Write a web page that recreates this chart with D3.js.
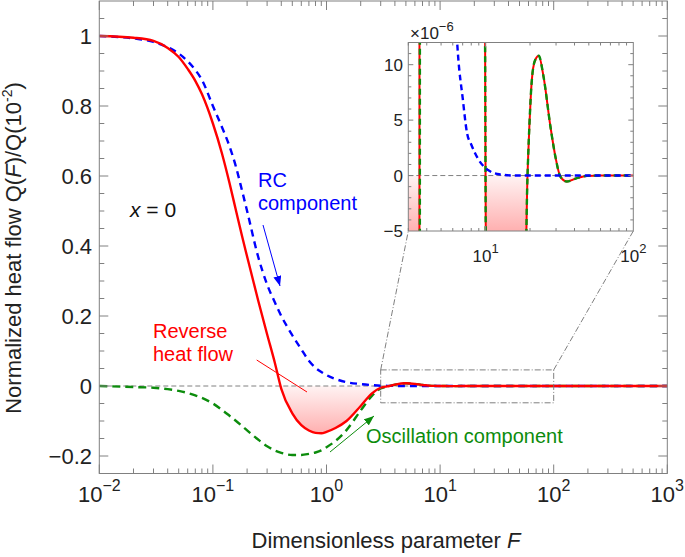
<!DOCTYPE html>
<html><head><meta charset="utf-8">
<script src="https://cdn.jsdelivr.net/npm/d3@7"></script>
<style>
body{margin:0;background:#fff}
text{font-family:"Liberation Sans",Arial,Helvetica,sans-serif}
</style>
</head><body>
<svg id="c" width="685" height="557"></svg>
<script>
// ---------------- data ----------------
const F = [0.01,0.02,0.03,0.04,0.05,0.06,0.07,0.08,0.1,0.12,
  0.14,0.16,0.18,0.2,0.25,0.3,0.35,0.4,0.5,0.6,
  0.7,0.8,0.9,1,1.2,1.5,2,2.5,3,3.3,
  3.57,3.8,4,5,6,6.5,7,7.5,8,9,
  9.6,10,10.4,11,12,14,16,18,18.5,18.9,
  19.1,19.4,19.8,20.3,21,22,22.9,24.7,27.5,29.7,
  32.1,35.5,41.5,48.5,60,100,1000];
// total heat flow Q(F)/Q(1e-2)
const total = [1.0,0.995,0.986,0.966,0.94,0.906,0.872,0.834,0.75,0.665,
  0.58,0.50,0.43,0.37,0.245,0.148,0.068,-0.008,-0.078,-0.112,
  -0.127,-0.134,-0.135,-0.131,-0.12,-0.1,-0.057,-0.022,-0.005,-0.0018,
  0,0.0022,0.0038,0.0078,0.006,0.0045,0.003,0.002,0.0012,0.0003,
  0.00008,0,-6e-5,-1.5e-4,-2.5e-4,-2.8e-4,-1.5e-4,-2.5e-5,-1.2e-5,-5e-6,
  -1.5e-6,1.5e-6,4.5e-6,7.5e-6,9.7e-6,10.6e-6,10.8e-6,8.9e-6,4.4e-6,1.7e-6,
  -0.1e-6,-0.54e-6,-0.23e-6,-0.03e-6,0,0,0];
// RC component
const rc = [1.0,0.993,0.983,0.968,0.95,0.928,0.903,0.875,0.80,0.74,
  0.685,0.625,0.56,0.50,0.37,0.29,0.24,0.20,0.145,0.105,
  0.072,0.052,0.04,0.031,0.02,0.011,0.0055,0.0025,0.0009,0.0006,
  0.0004,0.0003,0.00022,6e-5,2e-5,1.1e-5,7e-6,3.8e-6,2.8e-6,1.4e-6,
  0.9e-6,0.66e-6,0.5e-6,0.3e-6,0.15e-6,0.03e-6,0,0,0,0,
  0,0,0,0,0,0,0,0,0,0,
  0,0,0,0,0,0,0];
// Oscillation component
const osc = [0,-0.003,-0.005,-0.009,-0.014,-0.02,-0.027,-0.034,-0.05,-0.068,
  -0.085,-0.1,-0.114,-0.127,-0.153,-0.172,-0.184,-0.191,-0.197,-0.197,
  -0.194,-0.19,-0.184,-0.175,-0.157,-0.126,-0.07,-0.029,-0.007,-0.0025,
  -0.0002,0.0019,0.0036,0.0077,0.006,0.0045,0.003,0.002,0.0012,0.0003,
  0.00008,-0.7e-6,-6e-5,-1.5e-4,-2.5e-4,-2.8e-4,-1.5e-4,-2.5e-5,-1.2e-5,-5e-6,
  -1.5e-6,1.5e-6,4.5e-6,7.5e-6,9.7e-6,10.6e-6,10.8e-6,8.9e-6,4.4e-6,1.7e-6,
  -0.1e-6,-0.54e-6,-0.23e-6,-0.03e-6,0,0,0];

const xTickExp = [-2,-1,0,1,2,3];
const yTicks = [-0.2,0,0.2,0.4,0.6,0.8,1];
const yTickLabels = ["\u22120.2","0","0.2","0.4","0.6","0.8","1"];
const insetYTicks = [-5,0,5,10];
const insetYTickLabels = ["\u22125","0","5","10"];
const insetXTickExp = [1,2];
const insetUnit = 1e-6;
const zoomBox = {f0:3, f1:100, v0:-0.048, v1:0.046};

// ---------------- setup ----------------
const svg = d3.select("#c");
svg.append("rect").attr("width",685).attr("height",557).attr("fill","#fff");
const M = {l:99.3, r:667.3, t:1, b:473.5};
const x = d3.scaleLog().domain([1e-2,1e3]).range([M.l,M.r]);
const y = d3.scaleLinear().domain([-0.25,1.1]).range([M.b,M.t]);
const I = {l:408.3, r:633.3, t:42.5, b:231};
const xi = d3.scaleLog().domain([3,100]).range([I.l,I.r]);
const yi = d3.scaleLinear().domain([-5,12]).range([I.b,I.t]);

const RED="#ff0000", BLUE="#0000ff", GREEN="#0c8c0c", AX="#808080";
const rows = F.map((f,i)=>({f, t:total[i], r:rc[i], o:osc[i]}));
const rowsI = rows.filter(d=>d.f>=2.5 && d.f<=100);

const defs = svg.append("defs");
defs.append("clipPath").attr("id","clipMain").append("rect")
  .attr("x",M.l).attr("y",M.t).attr("width",M.r-M.l).attr("height",M.b-M.t);
defs.append("clipPath").attr("id","clipIn").append("rect")
  .attr("x",I.l).attr("y",I.t).attr("width",I.r-I.l).attr("height",I.b-I.t);
function grad(id,y1,y2){
  const g = defs.append("linearGradient").attr("id",id).attr("gradientUnits","userSpaceOnUse")
    .attr("x1",0).attr("x2",0).attr("y1",y1).attr("y2",y2);
  g.append("stop").attr("offset",0).attr("stop-color","#fff3f3");
  g.append("stop").attr("offset",1).attr("stop-color","#ffb0b0");
}
grad("gMain", y(0), y(-0.135));
grad("gIn", yi(0), yi(-5));
function marker(id,color){
  defs.append("marker").attr("id",id).attr("viewBox","0 0 10 8").attr("refX",10).attr("refY",4)
    .attr("markerUnits","userSpaceOnUse").attr("markerWidth",10).attr("markerHeight",8)
    .attr("orient","auto").append("path").attr("d","M0,0L10,4L0,8Z").attr("fill",color);
}
marker("aBlue",BLUE); marker("aGreen",GREEN);

// ---------------- main plot ----------------
const gMain = svg.append("g").attr("clip-path","url(#clipMain)");
gMain.append("path").datum(rows)
  .attr("d", d3.area().x(d=>x(d.f)).y0(y(0)).y1(d=>y(Math.min(d.t,0))).curve(d3.curveMonotoneX))
  .attr("fill","url(#gMain)");
gMain.append("line").attr("x1",M.l).attr("x2",M.r).attr("y1",y(0)).attr("y2",y(0))
  .attr("stroke",AX).attr("stroke-width",1).attr("stroke-dasharray","5,3");
const lineM = k => d3.line().x(d=>x(d.f)).y(d=>y(d[k])).curve(d3.curveMonotoneX);
gMain.append("path").datum(rows).attr("d",lineM("o")).attr("fill","none")
  .attr("stroke",GREEN).attr("stroke-width",2.4).attr("stroke-dasharray","8,5");
gMain.append("path").datum(rows).attr("d",lineM("r")).attr("fill","none")
  .attr("stroke",BLUE).attr("stroke-width",2.4).attr("stroke-dasharray","7,5");
gMain.append("path").datum(rows).attr("d",lineM("t")).attr("fill","none")
  .attr("stroke",RED).attr("stroke-width",2.4);

// zoom box + connectors
const dd = "6,2,1,2";
svg.append("rect").attr("x",x(zoomBox.f0)).attr("y",y(zoomBox.v1))
  .attr("width",x(zoomBox.f1)-x(zoomBox.f0)).attr("height",y(zoomBox.v0)-y(zoomBox.v1))
  .attr("fill","none").attr("stroke","#707070").attr("stroke-width",0.9).attr("stroke-dasharray",dd);
svg.append("line").attr("x1",x(zoomBox.f0)).attr("y1",y(zoomBox.v1)).attr("x2",I.l).attr("y2",I.b)
  .attr("stroke","#707070").attr("stroke-width",0.9).attr("stroke-dasharray",dd);
svg.append("line").attr("x1",x(zoomBox.f1)).attr("y1",y(zoomBox.v1)).attr("x2",I.r).attr("y2",I.b)
  .attr("stroke","#707070").attr("stroke-width",0.9).attr("stroke-dasharray",dd);

// main axes frame & ticks
const gAx = svg.append("g").attr("stroke",AX).attr("stroke-width",1);
gAx.append("rect").attr("x",M.l).attr("y",M.t).attr("width",M.r-M.l).attr("height",M.b-M.t).attr("fill","none");
d3.range(-25,111,5).map(v=>v/100).forEach(v=>{
  const major = yTicks.some(t=>Math.abs(t-v)<1e-9);
  const L = major?9:5;
  if (v<=-0.25||v>=1.1) return;
  gAx.append("line").attr("x1",M.l).attr("x2",M.l+L).attr("y1",y(v)).attr("y2",y(v));
  gAx.append("line").attr("x1",M.r).attr("x2",M.r-L).attr("y1",y(v)).attr("y2",y(v));
});
xTickExp.forEach(k=>{
  for(let m=1;m<=9;m++){
    const f = m*Math.pow(10,k);
    if (f>1000) break;
    const L = m===1?9:5;
    gAx.append("line").attr("x1",x(f)).attr("x2",x(f)).attr("y1",M.b).attr("y2",M.b-L);
    gAx.append("line").attr("x1",x(f)).attr("x2",x(f)).attr("y1",M.t).attr("y2",M.t+L);
  }
});
// tick labels
yTicks.forEach((v,i)=>{
  svg.append("text").attr("x",92).attr("y",y(v)).attr("dy","0.36em").attr("text-anchor","end")
    .attr("font-size",22).attr("fill","#222").text(yTickLabels[i]);
});
xTickExp.forEach(k=>{
  const t = svg.append("text").attr("x",x(Math.pow(10,k))).attr("y",502).attr("text-anchor","middle")
    .attr("font-size",22).attr("fill","#222");
  t.append("tspan").text("10");
  t.append("tspan").attr("dy",-11).attr("font-size",16).text(String(k).replace("-","\u2212"));
});
// axis titles
const xl = svg.append("text").attr("x",386).attr("y",548).attr("text-anchor","middle")
  .attr("font-size",22).attr("fill","#222");
xl.append("tspan").text("Dimensionless parameter ");
xl.append("tspan").attr("font-style","italic").text("F");
const yl = svg.append("text").attr("transform","translate(21,248) rotate(-90)").attr("text-anchor","middle")
  .attr("font-size",22).attr("fill","#222");
yl.append("tspan").text("Normalized heat flow Q(");
yl.append("tspan").attr("font-style","italic").text("F");
yl.append("tspan").text(")/Q(10");
yl.append("tspan").attr("dy",-9).attr("font-size",14).text("-2");
yl.append("tspan").attr("dy",9).text(")");

// ---------------- inset ----------------
svg.append("rect").attr("x",I.l).attr("y",I.t).attr("width",I.r-I.l).attr("height",I.b-I.t).attr("fill","#fff");
const gIn = svg.append("g").attr("clip-path","url(#clipIn)");
gIn.append("path").datum(rowsI)
  .attr("d", d3.area().x(d=>xi(d.f)).y0(yi(0)).y1(d=>yi(Math.min(d.t,0)/insetUnit)).curve(d3.curveMonotoneX))
  .attr("fill","url(#gIn)");
gIn.append("line").attr("x1",I.l).attr("x2",I.r).attr("y1",yi(0)).attr("y2",yi(0))
  .attr("stroke",AX).attr("stroke-width",1).attr("stroke-dasharray","5,3");
const lineI = k => d3.line().x(d=>xi(d.f)).y(d=>yi(d[k]/insetUnit)).curve(d3.curveMonotoneX);
gIn.append("path").datum(rowsI).attr("d",lineI("t")).attr("fill","none").attr("stroke",RED).attr("stroke-width",2);
gIn.append("path").datum(rowsI).attr("d",lineI("o")).attr("fill","none").attr("stroke",GREEN)
  .attr("stroke-width",2.4).attr("stroke-dasharray","6,4");
gIn.append("path").datum(rowsI).attr("d",lineI("r")).attr("fill","none").attr("stroke",BLUE)
  .attr("stroke-width",2.4).attr("stroke-dasharray","6,4");
const gIa = svg.append("g").attr("stroke",AX).attr("stroke-width",1);
gIa.append("rect").attr("x",I.l).attr("y",I.t).attr("width",I.r-I.l).attr("height",I.b-I.t).attr("fill","none");
d3.range(-5,13,1).forEach(v=>{
  if (v===-5||v===12) return;
  const L = insetYTicks.includes(v)?5:3;
  gIa.append("line").attr("x1",I.l).attr("x2",I.l+L).attr("y1",yi(v)).attr("y2",yi(v));
  gIa.append("line").attr("x1",I.r).attr("x2",I.r-L).attr("y1",yi(v)).attr("y2",yi(v));
});
[0,1].forEach(k=>{
  for(let m=1;m<=9;m++){
    const f = m*Math.pow(10,k);
    if (f<3||f>100) continue;
    const L = m===1?5:3;
    gIa.append("line").attr("x1",xi(f)).attr("x2",xi(f)).attr("y1",I.b).attr("y2",I.b-L);
    gIa.append("line").attr("x1",xi(f)).attr("x2",xi(f)).attr("y1",I.t).attr("y2",I.t+L);
  }
});
insetYTicks.forEach((v,i)=>{
  svg.append("text").attr("x",403).attr("y",yi(v)).attr("dy","0.36em").attr("text-anchor","end")
    .attr("font-size",17).attr("fill","#222").text(insetYTickLabels[i]);
});
insetXTickExp.forEach(k=>{
  const t = svg.append("text").attr("x",xi(Math.pow(10,k))).attr("y",262).attr("text-anchor","middle")
    .attr("font-size",17).attr("fill","#222");
  t.append("tspan").text("10");
  t.append("tspan").attr("dy",-9).attr("font-size",13).text(String(k));
});
const ex = svg.append("text").attr("x",410).attr("y",38.5).attr("font-size",17).attr("fill","#222");
ex.append("tspan").text("\u00d710");
ex.append("tspan").attr("dy",-8).attr("font-size",13).text("\u22126");

// ---------------- annotations ----------------
const xe = svg.append("text").attr("x",130).attr("y",216.5).attr("font-size",21).attr("fill","#111");
xe.append("tspan").attr("font-style","italic").text("x");
xe.append("tspan").text(" = 0");
svg.append("text").attr("x",258).attr("y",187).attr("font-size",20).attr("fill",BLUE).text("RC");
svg.append("text").attr("x",258).attr("y",210).attr("font-size",20).attr("fill",BLUE).text("component");
svg.append("line").attr("x1",263).attr("y1",225).attr("x2",280).attr("y2",286)
  .attr("stroke",BLUE).attr("stroke-width",1).attr("marker-end","url(#aBlue)");
svg.append("text").attr("x",153).attr("y",338).attr("font-size",20).attr("fill",RED).text("Reverse");
svg.append("text").attr("x",153).attr("y",361).attr("font-size",20).attr("fill",RED).text("heat flow");
svg.append("line").attr("x1",256.7).attr("y1",360).attr("x2",307).attr("y2",392)
  .attr("stroke",RED).attr("stroke-width",1);
svg.append("text").attr("x",366).attr("y",443).attr("font-size",20).attr("fill",GREEN).text("Oscillation component");
svg.append("line").attr("x1",330).attr("y1",452).attr("x2",374).attr("y2",416)
  .attr("stroke",GREEN).attr("stroke-width",1).attr("marker-end","url(#aGreen)");
</script>
</body></html>
